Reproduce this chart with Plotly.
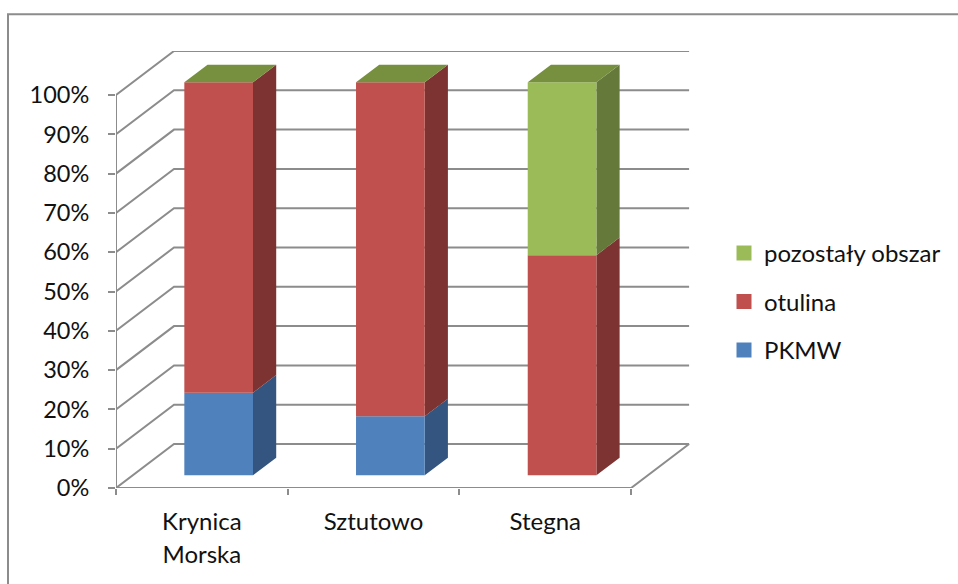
import plotly.graph_objects as go

categories = ["Krynica<br>Morska", "Sztutowo", "Stegna"]
pkmw = [21, 15, 0]
otulina = [79, 85, 56]
pozostaly = [0, 0, 44]
y_ticks = list(range(0, 101, 10))

series = [
    ("PKMW", pkmw, "#4F81BD", "#33557F"),
    ("otulina", otulina, "#C0504D", "#7D3331"),
    ("pozostały obszar", pozostaly, "#9BBB59", "#65793B"),
]
TOP_COLOR = "#76903F"
GRID = "#8C8C8C"

# oblique projection of the 3-D box: depth 1 moves by DX categories and DY percent
W, H = 958, 584
L, R_PX, T, B_PX = 116, 691, 50.7, 487.7
PX_PER_CAT = 171.7
PX_PER_PCT = 3.93
DX = 58 / PX_PER_CAT
DY = 44 / PX_PER_PCT
BAR_LO, BAR_HI = 0.3, 0.7
D0, D1 = 0.29, 0.69


def proj(cat, val, depth):
    return cat + depth * DX, val + depth * DY


def polygons(corner_lists):
    xs, ys = [], []
    for corners in corner_lists:
        pts = [proj(*c) for c in corners] + [proj(*corners[0])]
        xs += [p[0] for p in pts] + [None]
        ys += [p[1] for p in pts] + [None]
    return xs, ys


fig = go.Figure()

# walls and floor
gx, gy = [], []
n = len(categories)
for v in y_ticks:
    for c, d in ((0, 0), (0, 1), (n, 1)):
        px_, py_ = proj(c, v, d)
        gx.append(px_)
        gy.append(py_)
    gx.append(None)
    gy.append(None)
for c, d in ((0, 0), (n, 0), (n, 1)):
    px_, py_ = proj(c, 0, d)
    gx.append(px_)
    gy.append(py_)
gx += [None, 0, 0]
gy += [None, 0, 100]
fig.add_trace(go.Scatter(x=gx, y=gy, mode="lines", line=dict(color=GRID, width=2),
                         showlegend=False, hoverinfo="skip", cliponaxis=False))

# bars: side face and front face of each stacked segment
base = [0] * n
for name, vals, front, side in series:
    side_faces, front_faces = [], []
    for i, v in enumerate(vals):
        if v == 0:
            continue
        lo, hi = base[i], base[i] + v
        side_faces.append([(i + BAR_HI, lo, D0), (i + BAR_HI, lo, D1),
                           (i + BAR_HI, hi, D1), (i + BAR_HI, hi, D0)])
        front_faces.append([(i + BAR_LO, lo, D0), (i + BAR_HI, lo, D0),
                            (i + BAR_HI, hi, D0), (i + BAR_LO, hi, D0)])
    for faces, colour in ((side_faces, side), (front_faces, front)):
        fx, fy = polygons(faces)
        fig.add_trace(go.Scatter(x=fx, y=fy, mode="lines", fill="toself", fillcolor=colour,
                                 line=dict(width=0), name=name, showlegend=False,
                                 hoverinfo="skip"))
    base = [b + v for b, v in zip(base, vals)]

# top faces
tx, ty = polygons([[(i + BAR_LO, 100, D0), (i + BAR_HI, 100, D0),
                    (i + BAR_HI, 100, D1), (i + BAR_LO, 100, D1)] for i in range(n)])
fig.add_trace(go.Scatter(x=tx, y=ty, mode="lines", fill="toself", fillcolor=TOP_COLOR,
                         line=dict(width=0), showlegend=False, hoverinfo="skip"))

# legend entries
for name, vals, front, side in reversed(series):
    fig.add_trace(go.Scatter(x=[None], y=[None], mode="markers", name=name, legendgroup=name,
                             marker=dict(symbol="square", size=15, color=front)))

FONT = "Lato"
TEXT = "#111111"
tick_labels = [
    "<br>".join(f'<span style="font-size:24px">{p}</span>' for p in c.split("<br>"))
    for c in categories
]
plot_w = R_PX - L
plot_h = B_PX - T
fig.update_layout(
    width=W, height=H, autosize=False,
    margin=dict(l=L, r=W - R_PX, t=T, b=H - B_PX, pad=0),
    paper_bgcolor="white", plot_bgcolor="rgba(0,0,0,0)",
    font=dict(family=FONT, size=24, color=TEXT),
    xaxis=dict(range=[0, plot_w / PX_PER_CAT], tickmode="array",
               tickvals=[i + 0.5 for i in range(n)], ticktext=tick_labels,
               tickfont=dict(size=25, family=FONT, color=TEXT),
               ticklen=0, ticks="", ticklabelstandoff=16,
               minor=dict(tickmode="array", tickvals=list(range(n + 1)), ticks="outside",
                          ticklen=6, tickwidth=2, tickcolor=GRID, showgrid=False),
               showgrid=False, zeroline=False, showline=False),
    yaxis=dict(range=[0, plot_h / PX_PER_PCT], tickmode="array", tickvals=y_ticks,
               ticktext=[f"{v}%" for v in y_ticks], ticks="outside", ticklen=7,
               tickwidth=2, tickcolor=GRID, ticklabelstandoff=14,
               tickfont=dict(size=23.5, family=FONT, color=TEXT),
               showgrid=False, zeroline=False, showline=False),
    legend=dict(x=(724 - L) / plot_w, xanchor="left", y=1 - (230.5 - T) / plot_h, yanchor="top",
                tracegroupgap=14.4, font=dict(size=24, family=FONT, color=TEXT),
                bgcolor="rgba(0,0,0,0)", itemclick=False, itemdoubleclick=False),
    shapes=[dict(type="path", xref="paper", yref="paper",
                 path=f"M {(8 - L) / plot_w} {1 + (T - H - 10) / plot_h} "
                      f"L {(8 - L) / plot_w} {1 + (T - 14) / plot_h} "
                      f"L {(W + 10 - L) / plot_w} {1 + (T - 14) / plot_h}",
                 line=dict(color=GRID, width=2))],
)
fig.write_html("out.html", config=dict(displayModeBar=False),
               post_script="document.body.style.margin='0';document.body.style.overflow='hidden';")
